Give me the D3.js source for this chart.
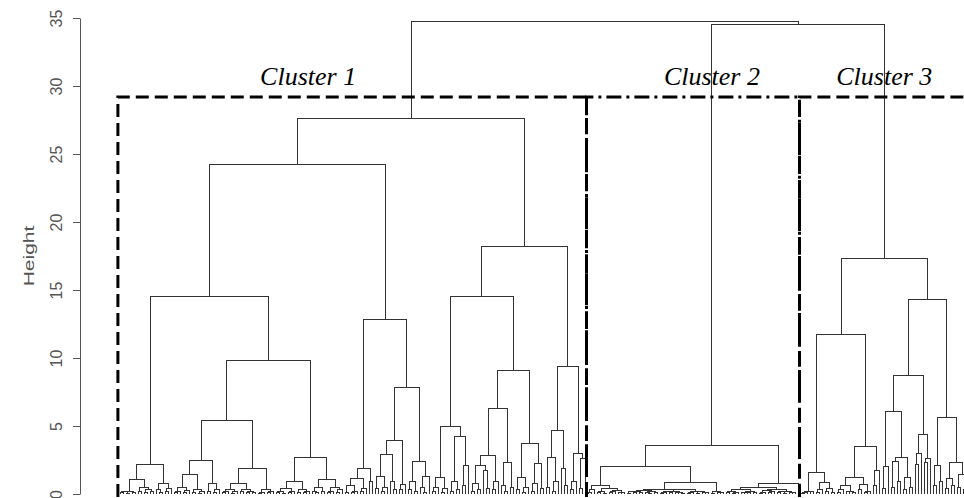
<!DOCTYPE html>
<html>
<head>
<meta charset="utf-8">
<script src="https://cdn.jsdelivr.net/npm/d3@7"></script>
<style>
  body { margin: 0; background: #fff; }
  svg { display: block; }
</style>
</head>
<body>
<div id="chart"></div>
<script>
// merge heights; "o" = leaf, "(AB)h" = A and B joined at height h
var cluster1Tree = `
(
  (
    (
      (((((oo).1(oo).05).15(oo).1).2((oo).2((oo).1(oo).15).3).45)1.1((o(oo).1).3((oo).2o).4).75)2.2
      (
        (
          (((((oo).1o).2((oo).1o).25).5((oo).1((oo).05o).15).3)1.45((oo).2((oo).1o).3).8)2.5
          (((((oo).1o).2((oo).05o).15).35((oo).15((oo).1(oo).1).2).3).8(((oo).05o).1((oo).1o).2).35)1.9
        )5.4
        (((((oo).1(oo).05).2((oo).1o).15).4((oo).1((oo).1o).2).3).9(((o(oo).1).2(oo).15).45(((oo).1o).2((oo).1o).3).5)1.1)2.65
      )9.85
    )14.5
    (
      ((((oo).1((oo).1o).2).65((oo).2o).4)1.15(oo).9)1.9
      (
        ((((oo).4((oo).2o).5)1.3(o(oo).3).95)2.9((oo).3o).7)3.9
        (((oo).3(oo).2).9((o(oo).1).5o)1.3)2.4
      )7.8
    )12.8
  )24.2
  (
    (
      (
        (((oo).2o).5((oo).1o).4)1.2
        (((oo).2(oo).3).95((oo).6o)2.1)4.2
      )5
      (
        (
          ((((oo).2(oo).3).8(o(oo).4)1.7)2.1((oo).3o).9)2.8
          ((o(oo).2).6(oo).5)2.35
        )6.3
        (((oo).3((oo).1o).5)1.2(((oo).2o).8(oo).4)2.25)3.75
      )9.1
    )14.5
    (
      (((oo).5((oo).2o).9)2.7(o(oo).6)1.9)4.7
      (((oo).3o).9((oo).4o)2.6)3
    )9.35
  )18.2
)27.6`;

var cluster2Tree = `
(
  (
    (((oo).1o).3(((oo).1(oo).05).2(((oo).1o).15((oo).1o).1).25).4).65
    (
      (
        ((((oo).05(oo).1).15(oo).12).2((o(oo).05).1(oo).08).18).25
        (((((oo).05o).1(oo).08).15((oo).1(oo).05).12).2(((oo).05o).08((oo).05(o(oo).1).12).15).22).3
      ).35
      ((oo).05((oo).08o).1).15
    ).85
  )2.05
  (
    (
      (((oo).1((oo).05o).1).2(((oo).1(oo).08).12(oo).08).18).3
      ((((oo).05o).1((oo).1o).15).25(((oo).1(oo).05).15(o(oo).1).12).2).35
    ).45
    o
  ).8
)3.55`;

var cluster3Tree = `
(
  (
    ((((oo).05o).1(oo).15).2(((oo).1o).3((oo).2(oo).1).4).85)1.6
    (
      ((((oo).1o).3((oo).15(oo).1).2).6((oo).3((oo).1o).2).7)1.25
      ((oo).6o)1.75
    )3.5
  )11.75
  (
    (
      (
        ((oo).4o)2.05
        (((oo).5(oo).9)2.4((oo).3(oo).5)1.2)2.65
      )6.05
      (((oo)2.2o)3((oo)2.3o)2.6)4.35
    )8.7
    (
      ((oo).6(oo).9)2.1
      (((oo).4(oo).6)1.15((oo).5((oo).3o).8)1.4)2.35
    )5.65
  )14.3
)17.35`;

var clusters23Height = 34.55;
var rootHeight = 34.75;
var cutHeight = 29.2;
var yTicks = [0, 5, 10, 15, 20, 25, 30, 35];
var clusterNames = ["Cluster 1", "Cluster 2", "Cluster 3"];

function parseTree(s) {
    s = s.replace(/\s+/g, "");
    var i = 0;
    function node() {
        if (s[i] === "o") { i++; return {h: 0}; }
        i++; // "("
        var children = [];
        while (s[i] !== ")") children.push(node());
        i++;
        var num = s.slice(i).match(/^[\d.]+/)[0];
        i += num.length;
        return {h: +num, children: children};
    }
    return node();
}

var width = 964, height = 498;
var svg = d3.select("#chart").append("svg")
    .attr("width", width)
    .attr("height", height);

var c1 = parseTree(cluster1Tree), c2 = parseTree(cluster2Tree), c3 = parseTree(cluster3Tree);
var root = d3.hierarchy({h: rootHeight, children: [c1, {h: clusters23Height, children: [c2, c3]}]});
var leaves = root.leaves();

var x = d3.scaleLinear().domain([0, leaves.length - 1]).range([120, 120 + 3 * (leaves.length - 1)]);
var y = d3.scaleLinear().domain([0, 35]).range([494, 18]);

leaves.forEach(function(d, i) { d.px = x(i); });
root.eachAfter(function(d) {
    if (d.children) d.px = (d.children[0].px + d.children[d.children.length - 1].px) / 2;
});

// dendrogram
svg.append("g")
    .selectAll("path")
    .data(root.descendants().filter(function(d) { return d.children; }))
    .enter()
    .append("path")
    .attr("d", function(d) {
        var a = d.children[0], b = d.children[d.children.length - 1];
        var p = "M" + a.px + "," + y(a.data.h) + "V" + y(d.data.h) + "H" + b.px + "V" + y(b.data.h);
        d.children.slice(1, -1).forEach(function(c) {
            p += "M" + c.px + "," + y(d.data.h) + "V" + y(c.data.h);
        });
        return p;
    })
    .style("fill", "none")
    .style("stroke", "#333")
    .style("stroke-width", 1)
    .style("shape-rendering", "crispEdges");

// y axis
var axis = svg.append("g")
    .attr("transform", "translate(80,0)")
    .call(d3.axisLeft(y).tickValues(yTicks).tickSize(7).tickSizeOuter(0));
axis.select(".domain").attr("stroke", "#555");
axis.selectAll(".tick line").attr("stroke", "#555");
axis.selectAll(".tick text")
    .attr("transform", "rotate(-90)")
    .attr("x", 0)
    .attr("y", -18)
    .attr("dy", null)
    .style("text-anchor", "middle")
    .style("font-family", "'Liberation Sans', Arial, sans-serif")
    .style("font-size", "16px")
    .attr("fill", "#555");

svg.append("text")
    .attr("transform", "translate(34," + (y(0) + y(35)) / 2 + ") rotate(-90) scale(1.4,1)")
    .style("text-anchor", "middle")
    .style("font-family", "'Liberation Sans', Arial, sans-serif")
    .style("font-size", "15px")
    .style("fill", "#555")
    .text("Height");

// cluster boxes
var n1 = d3.hierarchy(c1).leaves().length, n2 = d3.hierarchy(c2).leaves().length;
var edges = [x(-0.7), x(n1 - 0.5), x(n1 + n2 - 0.5), width + 30];
var dashes = ["13,6", "15,5,3,5", "13,6"];
var boxTop = y(cutHeight);
svg.append("g")
    .selectAll("path")
    .data([0, 1, 2])
    .enter()
    .append("path")
    .attr("d", function(i) {
        return "M" + edges[i] + ",497V" + boxTop + "H" + edges[i + 1] + "V497";
    })
    .style("fill", "none")
    .style("stroke", "#000")
    .style("stroke-width", 3)
    .style("stroke-dasharray", function(i) { return dashes[i]; });

// cluster labels
var clusterNodes = [root.children[0], root.children[1].children[0], root.children[1].children[1]];
svg.append("g")
    .selectAll("text")
    .data(clusterNames)
    .enter()
    .append("text")
    .attr("x", function(d, i) { return clusterNodes[i].px - (i === 0 ? 103 : 0); })
    .attr("y", 85)
    .style("text-anchor", "middle")
    .style("font-family", "'Liberation Serif', 'Times New Roman', serif")
    .style("font-style", "italic")
    .style("font-size", "26px")
    .text(function(d) { return d; });
</script>
</body>
</html>
